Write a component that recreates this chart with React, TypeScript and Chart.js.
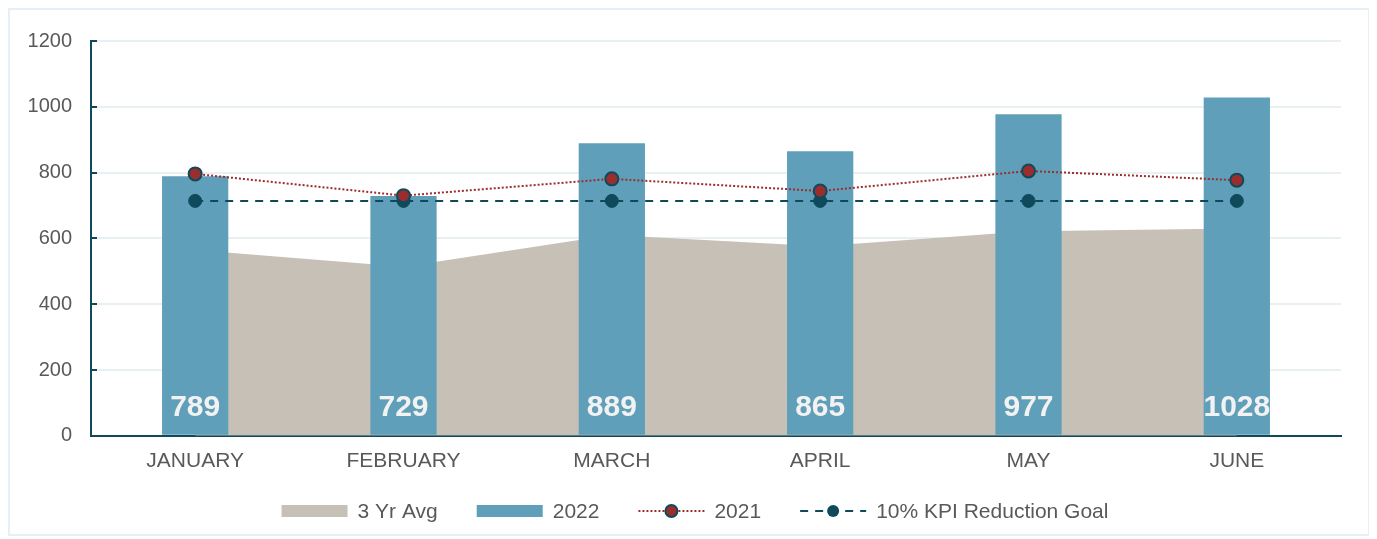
import React, { useEffect, useRef } from "react";
import { Chart, registerables } from "chart.js";

Chart.register(...registerables);

const months = ["JANUARY", "FEBRUARY", "MARCH", "APRIL", "MAY", "JUNE"];
const avg3yr = [565, 514, 610, 576, 622, 630];
const values2022 = [789, 729, 889, 865, 977, 1028];
const values2021 = [796, 730, 781, 744, 805, 777];
const kpiGoal = [714, 714, 714, 714, 714, 714];
const yTicks = [0, 200, 400, 600, 800, 1000, 1200];

const TEXT = "#595959";
const TEAL = "#0e4a5c";
const BAR = "#609fb9";
const AREA = "#c7c0b7";
const RED = "#9b2d2d";
const FONT = "'Liberation Sans', Arial, sans-serif";

const barLabelPlugin = {
  id: "barLabels",
  afterDatasetsDraw(chart: any) {
    const meta = chart.getDatasetMeta(1);
    const ctx = chart.ctx;
    const yBottom = chart.scales.y.bottom;
    ctx.save();
    ctx.fillStyle = "#f2f2f2";
    ctx.font = `bold 30px ${FONT}`;
    ctx.textAlign = "center";
    ctx.textBaseline = "middle";
    meta.data.forEach((el: any, i: number) => {
      ctx.fillText(String(values2022[i]), el.x, yBottom - 28);
    });
    ctx.restore();
  },
};

const innerTickPlugin = {
  id: "innerTicks",
  afterDraw(chart: any) {
    const y = chart.scales.y;
    const ctx = chart.ctx;
    ctx.save();
    ctx.strokeStyle = TEAL;
    ctx.lineWidth = 2;
    y.ticks.forEach((t: any) => {
      const py = Math.round(y.getPixelForValue(t.value));
      ctx.beginPath();
      ctx.moveTo(y.right, py);
      ctx.lineTo(y.right + 6, py);
      ctx.stroke();
    });
    ctx.restore();
  },
};

const legendPlugin = {
  id: "customLegend",
  afterDraw(chart: any) {
    const ctx = chart.ctx;
    const items = chart.data.datasets.map((d: any) => d.label as string);
    const symW = 66;
    const gapText = 10;
    const gapItem = 39;
    ctx.save();
    ctx.font = `21px ${FONT}`;
    const widths = items.map((t: string) => symW + gapText + ctx.measureText(t).width);
    const total = widths.reduce((a: number, b: number) => a + b, 0) + gapItem * (items.length - 1);
    let x = chart.width / 2 - total / 2 + 6;
    const cy = 501;
    items.forEach((label: string, i: number) => {
      if (i === 0 || i === 1) {
        ctx.fillStyle = i === 0 ? AREA : BAR;
        ctx.fillRect(x, cy - 6, symW, 12);
      } else if (i === 2) {
        ctx.strokeStyle = RED;
        ctx.lineWidth = 2;
        ctx.setLineDash([2, 2]);
        ctx.beginPath();
        ctx.moveTo(x, cy);
        ctx.lineTo(x + symW, cy);
        ctx.stroke();
        ctx.setLineDash([]);
        ctx.beginPath();
        ctx.arc(x + symW / 2, cy, 6, 0, Math.PI * 2);
        ctx.fillStyle = RED;
        ctx.fill();
        ctx.strokeStyle = TEAL;
        ctx.lineWidth = 2;
        ctx.stroke();
      } else {
        ctx.strokeStyle = TEAL;
        ctx.lineWidth = 2;
        ctx.setLineDash([8, 7]);
        ctx.beginPath();
        ctx.moveTo(x, cy);
        ctx.lineTo(x + symW, cy);
        ctx.stroke();
        ctx.setLineDash([]);
        ctx.beginPath();
        ctx.arc(x + symW / 2, cy, 6, 0, Math.PI * 2);
        ctx.fillStyle = TEAL;
        ctx.fill();
      }
      ctx.fillStyle = TEXT;
      ctx.textAlign = "left";
      ctx.textBaseline = "middle";
      ctx.fillText(label, x + symW + gapText, cy + 1);
      x += widths[i] + gapItem;
    });
    ctx.restore();
  },
};

export default function App() {
  const ref = useRef<HTMLCanvasElement>(null);
  useEffect(() => {
    if (!ref.current) return;
    const chart = new Chart(ref.current, {
      type: "bar",
      data: {
        labels: months,
        datasets: [
          {
            type: "line",
            label: "3 Yr Avg",
            data: avg3yr,
            backgroundColor: AREA,
            borderColor: AREA,
            borderWidth: 0,
            fill: "origin",
            pointRadius: 0,
            tension: 0,
            order: 4,
          } as any,
          {
            type: "bar",
            label: "2022",
            data: values2022,
            backgroundColor: BAR,
            barPercentage: 0.318,
            categoryPercentage: 1,
            order: 3,
          },
          {
            type: "line",
            label: "2021",
            data: values2021,
            borderColor: RED,
            borderWidth: 2,
            borderDash: [2, 2],
            pointRadius: 6.5,
            pointBackgroundColor: RED,
            pointBorderColor: TEAL,
            pointBorderWidth: 2,
            fill: false,
            tension: 0,
            order: 1,
          },
          {
            type: "line",
            label: "10% KPI Reduction Goal",
            data: kpiGoal,
            borderColor: TEAL,
            borderWidth: 2,
            borderDash: [8, 7],
            pointRadius: 6.5,
            pointBackgroundColor: TEAL,
            pointBorderColor: TEAL,
            pointBorderWidth: 1,
            fill: false,
            tension: 0,
            order: 2,
          },
        ],
      },
      options: {
        animation: false,
        responsive: false,
        maintainAspectRatio: false,
        layout: { padding: { top: 19, right: 27, bottom: 47, left: 0 } },
        plugins: {
          legend: { display: false },
          tooltip: { enabled: false },
        },
        scales: {
          x: {
            offset: true,
            grid: { display: false, drawTicks: false },
            border: { display: true, color: TEAL, width: 2 },
            ticks: { color: TEXT, font: { size: 21, family: FONT }, padding: 13 },
          },
          y: {
            min: 0,
            max: 1200,
            afterBuildTicks: (s: any) => {
              s.ticks = yTicks.map((v) => ({ value: v }));
            },
            afterFit: (s: any) => {
              s.width = 81;
            },
            grid: { color: "#e8f0f4", lineWidth: 2, drawTicks: false },
            border: { display: true, color: TEAL, width: 2 },
            ticks: {
              color: TEXT,
              font: { size: 20, family: FONT },
              padding: 19,
              callback: (v: any) => String(v),
            },
          },
        },
      },
      plugins: [barLabelPlugin, innerTickPlugin, legendPlugin],
    });
    return () => chart.destroy();
  }, []);
  return (
    <div
      style={{
        width: 1362,
        height: 528,
        border: "2px solid #e6eff3",
        boxSizing: "border-box",
        background: "#fff",
      }}
    >
      <canvas ref={ref} width={1358} height={524} style={{ display: "block" }} />
    </div>
  );
}
